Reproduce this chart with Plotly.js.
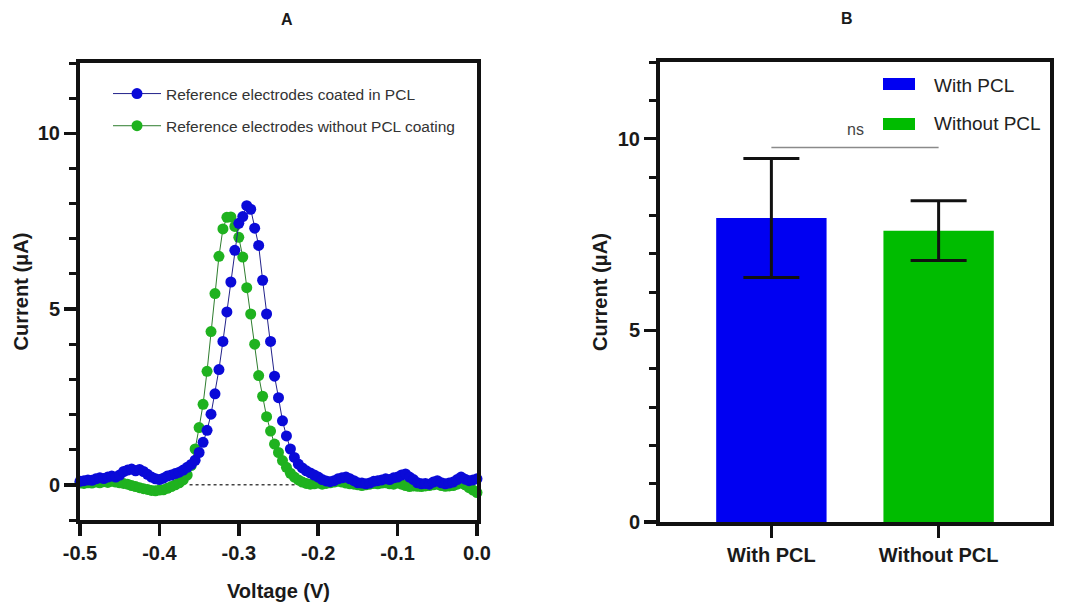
<!DOCTYPE html>
<html>
<head>
<meta charset="utf-8">
<script src="https://cdn.plot.ly/plotly-3.0.1.min.js"></script>
<style>html,body{margin:0;padding:0;background:#fff;}#chart{width:1066px;height:603px;}</style>
</head>
<body>
<div id="chart"></div>
<script>
// ---------- Panel A data ----------
const voltage = [
-0.500,-0.495,-0.490,-0.485,-0.480,-0.475,-0.470,-0.465,-0.460,-0.455,
-0.450,-0.445,-0.440,-0.435,-0.430,-0.425,-0.420,-0.415,-0.410,-0.405,
-0.400,-0.395,-0.390,-0.385,-0.380,-0.375,-0.370,-0.365,-0.360,-0.355,
-0.350,-0.345,-0.340,-0.335,-0.330,-0.325,-0.320,-0.315,-0.310,-0.305,
-0.300,-0.295,-0.290,-0.285,-0.280,-0.275,-0.270,-0.265,-0.260,-0.255,
-0.250,-0.245,-0.240,-0.235,-0.230,-0.225,-0.220,-0.215,-0.210,-0.205,
-0.200,-0.195,-0.190,-0.185,-0.180,-0.175,-0.170,-0.165,-0.160,-0.155,
-0.150,-0.145,-0.140,-0.135,-0.130,-0.125,-0.120,-0.115,-0.110,-0.105,
-0.100,-0.095,-0.090,-0.085,-0.080,-0.075,-0.070,-0.065,-0.060,-0.055,
-0.050,-0.045,-0.040,-0.035,-0.030,-0.025,-0.020,-0.015,-0.010,-0.005,
0.000];
const currentCoated = [
0.10,0.12,0.14,0.13,0.17,0.20,0.18,0.22,0.25,0.22,
0.28,0.38,0.42,0.45,0.40,0.44,0.38,0.30,0.22,0.17,
0.15,0.19,0.25,0.28,0.32,0.36,0.42,0.50,0.58,0.70,
0.92,1.21,1.55,2.01,2.59,3.28,4.08,4.92,5.77,6.67,
7.44,7.63,7.94,7.84,7.30,6.81,5.82,4.86,4.08,3.09,
2.48,1.82,1.39,1.02,0.78,0.59,0.48,0.40,0.34,0.28,
0.22,0.15,0.11,0.09,0.12,0.17,0.20,0.22,0.17,0.12,
0.06,0.05,0.03,0.05,0.10,0.12,0.14,0.17,0.15,0.20,
0.22,0.28,0.31,0.22,0.15,0.06,0.03,0.04,0.02,0.08,
0.12,0.06,0.03,0.05,0.08,0.15,0.22,0.16,0.12,0.14,
0.17];
const currentUncoated = [
0.05,0.04,0.06,0.05,0.08,0.06,0.09,0.07,0.10,0.08,
0.06,0.04,0.02,-0.02,-0.05,-0.08,-0.11,-0.13,-0.16,-0.17,
-0.15,-0.14,-0.10,-0.05,0.00,0.06,0.14,0.28,0.55,1.02,
1.63,2.29,3.23,4.36,5.44,6.50,7.28,7.61,7.62,7.35,
7.04,6.48,5.61,4.86,4.00,3.11,2.52,1.94,1.53,1.16,
0.92,0.69,0.50,0.33,0.22,0.14,0.08,0.04,0.02,0.03,
0.05,0.02,0.04,0.06,0.08,0.10,0.08,0.05,0.03,0.02,
0.00,-0.02,0.00,0.02,0.04,0.03,0.05,0.06,0.03,0.02,
0.05,0.02,-0.02,-0.05,-0.03,-0.04,-0.05,-0.03,-0.02,0.00,
0.02,-0.02,-0.04,-0.03,-0.02,0.02,0.05,0.00,-0.08,-0.15,
-0.22];
const baselineX = [-0.362, -0.225];
const baselineY = [0, 0];
const seriesNames = ['Reference electrodes coated in PCL', 'Reference electrodes without PCL coating'];
const xTickVals = [-0.5, -0.4, -0.3, -0.2, -0.1, 0.0];
const xTickText = ['-0.5', '-0.4', '-0.3', '-0.2', '-0.1', '0.0'];

// ---------- Panel B data ----------
const barCats = ['With PCL', 'Without PCL'];
const barMeans = [7.93, 7.60];
const barErr = [1.55, 0.78];
const sigY = 9.77;
const sigLabel = 'ns';

// ---------- styles ----------
const blueMk = '#0a0ad8', greenMk = '#1fb21f';
const blueLn = '#22228a', greenLn = '#2e7d2e';
const barColors = ['#0000f2', '#00bc00'];
const FONT = 'Liberation Sans, Arial, sans-serif';
const tickFont = {family: FONT, size: 20, weight: 'bold', color: '#1a1a1a'};
const titleFont = {family: FONT, size: 20, weight: 'bold', color: '#1a1a1a'};

const W = 1066, H = 603;
const px = v => v / W, py = v => 1 - v / H;

const traces = [
  {x: baselineX, y: baselineY, mode: 'lines', xaxis: 'x', yaxis: 'y',
   line: {dash: 'dot', color: '#444', width: 1.5}, showlegend: false, hoverinfo: 'skip'},
  {x: voltage, y: currentUncoated, name: seriesNames[1], mode: 'lines+markers',
   xaxis: 'x', yaxis: 'y', legend: 'legend', legendgroup: 'g2', legendrank: 2,
   marker: {color: greenMk, size: 11}, line: {color: greenLn, width: 1}, cliponaxis: false},
  {x: voltage, y: currentCoated, name: seriesNames[0], mode: 'lines+markers',
   xaxis: 'x', yaxis: 'y', legend: 'legend', legendgroup: 'g1', legendrank: 1,
   marker: {color: blueMk, size: 11}, line: {color: blueLn, width: 1}, cliponaxis: false},
  {x: barCats, y: barMeans, type: 'bar', xaxis: 'x2', yaxis: 'y2', width: 0.66,
   marker: {color: barColors, line: {width: 0}}, showlegend: false,
   error_y: {type: 'data', array: barErr, visible: true, color: '#111', thickness: 3, width: 28}}
];

const minorTicks = {dtick: 1, tick0: 0, ticks: 'outside', ticklen: 7, tickwidth: 3, tickcolor: '#111'};
const axisCommon = {
  showline: true, linewidth: 4, linecolor: '#111', mirror: true,
  ticks: 'outside', ticklen: 12, tickwidth: 3.5, tickcolor: '#111',
  showgrid: false, zeroline: false, tickfont: tickFont, fixedrange: true
};

const layout = {
  width: W, height: H,
  margin: {l: 0, r: 0, t: 0, b: 0},
  paper_bgcolor: '#fff', plot_bgcolor: '#fff',
  font: {family: FONT},
  xaxis: Object.assign({}, axisCommon, {
    domain: [px(80), px(477)], anchor: 'y', range: [-0.5, 0],
    tickmode: 'array', tickvals: xTickVals, ticktext: xTickText,
    title: {text: 'Voltage (V)', font: titleFont, standoff: 22}
  }),
  yaxis: Object.assign({}, axisCommon, {
    domain: [1 - 520 / H, 1 - 63 / H], anchor: 'x', range: [-1, 12],
    tick0: 0, dtick: 5, minor: minorTicks,
    title: {text: 'Current (μA)', font: titleFont, standoff: 5}
  }),
  xaxis2: Object.assign({}, axisCommon, {
    domain: [px(660), px(1050)], anchor: 'y2', type: 'category', range: [-0.666, 1.666]
  }),
  yaxis2: Object.assign({}, axisCommon, {
    domain: [1 - 522 / H, 1 - 62 / H], anchor: 'x2', range: [0, 12],
    tick0: 0, dtick: 5, minor: minorTicks,
    title: {text: 'Current (μA)', font: titleFont, standoff: 6}
  }),
  legend: {
    x: px(108), xanchor: 'left', y: py(77), yanchor: 'top',
    bgcolor: 'rgba(0,0,0,0)', borderwidth: 0,
    font: {family: FONT, size: 15.5, color: '#333'},
    itemwidth: 48, traceorder: 'grouped', tracegroupgap: 9
  },
  shapes: [
    {type: 'line', xref: 'x2', yref: 'y2', x0: 0, x1: 1, y0: sigY, y1: sigY,
     line: {color: '#8a8a8a', width: 1.5}},
    {type: 'rect', xref: 'paper', yref: 'paper', x0: px(883), x1: px(915), y0: py(90), y1: py(78),
     fillcolor: barColors[0], line: {width: 0}},
    {type: 'rect', xref: 'paper', yref: 'paper', x0: px(883), x1: px(915), y0: py(130), y1: py(118),
     fillcolor: barColors[1], line: {width: 0}}
  ],
  annotations: [
    {text: 'A', xref: 'paper', yref: 'paper', x: px(278.5), y: py(20), yanchor: 'middle', showarrow: false,
     font: {family: FONT, size: 16, weight: 'bold', color: '#1a1a1a'}},
    {text: 'B', xref: 'paper', yref: 'paper', x: px(855), y: py(19), yanchor: 'middle', showarrow: false,
     font: {family: FONT, size: 16, weight: 'bold', color: '#1a1a1a'}},
    {text: sigLabel, xref: 'x2', yref: 'y2', x: 0.5, y: 10.23, yanchor: 'middle', showarrow: false,
     font: {family: FONT, size: 16, color: '#444'}},
    {text: barCats[0], xref: 'paper', yref: 'paper', x: px(932), y: py(85), xanchor: 'left', yanchor: 'middle', showarrow: false,
     font: {family: FONT, size: 19, color: '#222'}},
    {text: barCats[1], xref: 'paper', yref: 'paper', x: px(932), y: py(124), xanchor: 'left', yanchor: 'middle', showarrow: false,
     font: {family: FONT, size: 19, color: '#222'}}
  ]
};

Plotly.newPlot('chart', traces, layout, {displayModeBar: false, staticPlot: true});
</script>
</body>
</html>
